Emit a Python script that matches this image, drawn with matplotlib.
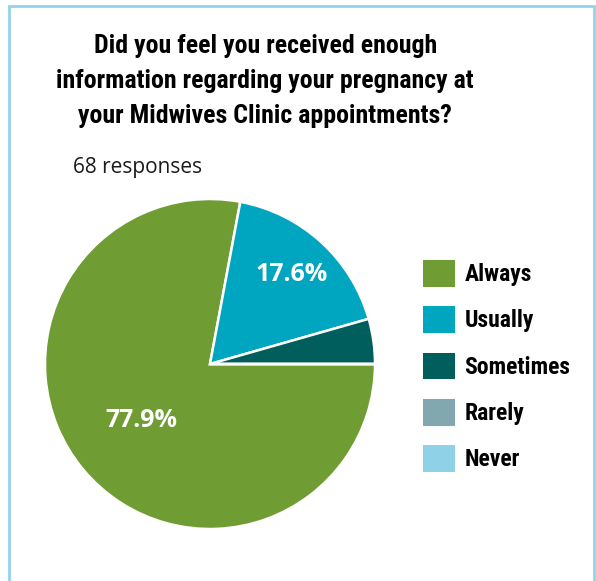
import numpy as np
import matplotlib.pyplot as plt
from matplotlib.patches import Rectangle, Patch

title = ("Did you feel you received enough\n"
         "information regarding your pregnancy at\n"
         "your Midwives Clinic appointments?")
subtitle = "68 responses"

answers = ["Always", "Usually", "Sometimes", "Rarely", "Never"]
counts = [53, 12, 3, 0, 0]
colors = ["#709c34", "#00a6c0", "#005e5d", "#80a8ae", "#8fd2e8"]

# radial position of the percentage text, per slice
label_dist = [0.54, 0.73, 0.7, 0.7, 0.7]

cond = "Roboto Condensed"

fig = plt.figure(figsize=(5.96, 5.81), dpi=100)

# light blue card border
fig.patches.append(Rectangle((9 / 596, -0.05), 585 / 596, 1.05 - 6 / 581,
                             transform=fig.transFigure, fill=False,
                             edgecolor="#92d4ea", linewidth=2))

fig.text(0.445, 1 - 81 / 581, title, ha="center", va="center",
         fontsize=18.6, fontweight="bold", family=cond, linespacing=1.58)
fig.text(73 / 596, 1 - 167 / 581, subtitle, ha="left", va="center",
         fontsize=15, family="Open Sans", color="#1a1a1a")

ax = fig.add_axes([45 / 596, 52 / 581, 330 / 596, 330 / 581])


def pct_text(p):
    return f"{p:.1f}%" if p >= 5 else ""


wedges, texts, autotexts = ax.pie(
    counts, colors=colors, startangle=0, counterclock=False,
    autopct=pct_text, pctdistance=0.6,
    wedgeprops=dict(edgecolor="white", linewidth=1.8),
    textprops=dict(color="white", fontsize=18, fontweight="bold",
                   family="Open Sans"))

for w, t, d in zip(wedges, autotexts, label_dist):
    mid = np.deg2rad((w.theta1 + w.theta2) / 2)
    t.set_position((d * np.cos(mid), d * np.sin(mid)))

ax.set_xlim(-1, 1)
ax.set_ylim(-1, 1)
ax.set_aspect("equal")

handles = [Patch(facecolor=c, edgecolor="none") for c in colors]
fig.legend(handles, answers, loc="upper left",
           bbox_to_anchor=(423 / 596, 1 - 260 / 581), frameon=False,
           prop=dict(family=cond, weight="bold", size=17),
           handlelength=1.35, handleheight=1.35, handletextpad=0.4,
           labelspacing=0.84, borderpad=0, borderaxespad=0)

fig.savefig("out.png", dpi=100, facecolor="white")
